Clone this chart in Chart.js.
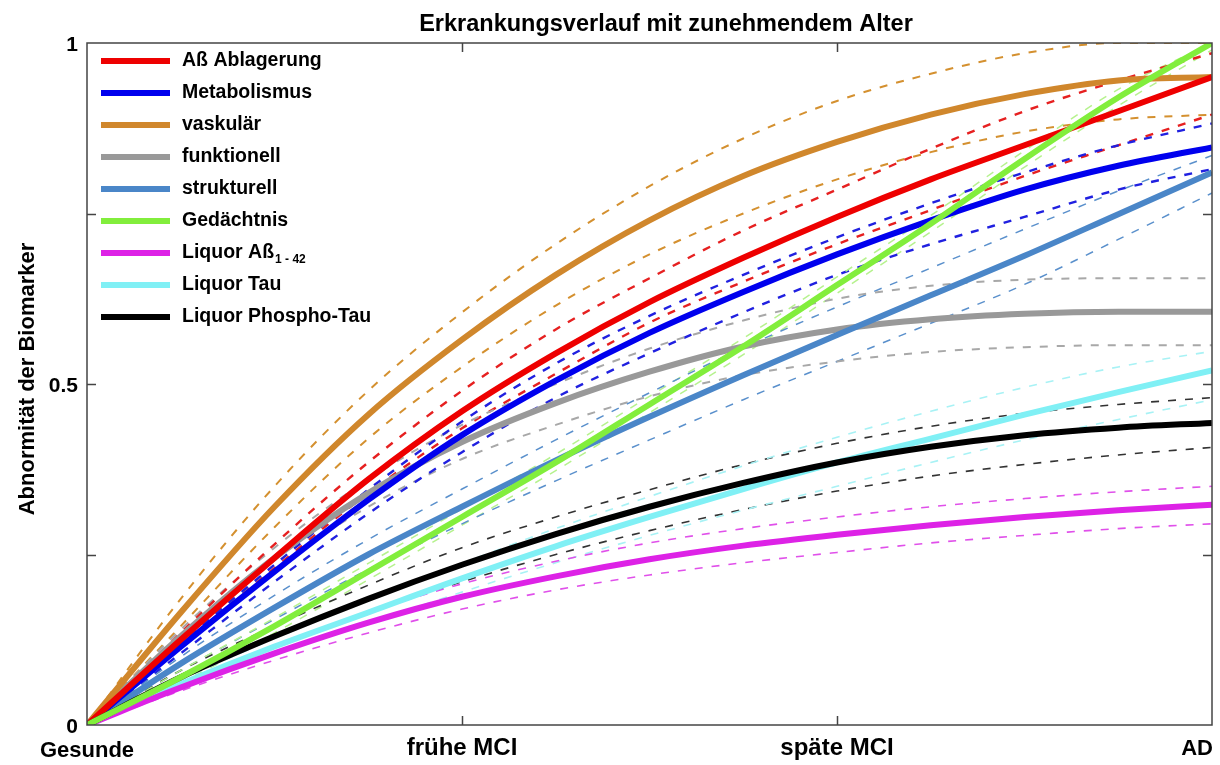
<!DOCTYPE html>
<html>
<head>
<meta charset="utf-8">
<script src="https://cdn.jsdelivr.net/npm/chart.js@4.4.1/dist/chart.umd.min.js"></script>
<style>
html,body{margin:0;padding:0;background:#fff;}
canvas{display:block;}
</style>
</head>
<body>
<canvas id="c" width="1220" height="765"></canvas>
<script>
// ---- data ----
const xs = [0, 0.25, 0.5, 0.75, 1, 1.25, 1.5, 1.75, 2, 2.25, 2.5, 2.75, 3];
const xTickValues = [0, 1, 2, 3];
const xTickLabels = ['Gesunde', 'frühe MCI', 'späte MCI', 'AD'];
const yTickValues = [0, 0.25, 0.5, 0.75, 1];
const yTickLabels = ['0', '', '0.5', '', '1'];
const titleText = 'Erkrankungsverlauf mit zunehmendem Alter';
const yTitleText = 'Abnormität der Biomarker';

const seriesNames = ['Aß Ablagerung', 'Metabolismus', 'vaskulär', 'funktionell', 'strukturell', 'Gedächtnis', 'Liquor Aß', 'Liquor Tau', 'Liquor Phospho-Tau'];
const seriesSubscripts = ['', '', '', '', '', '', '1 - 42', '', ''];

const abMean    = [0, 0.125, 0.245, 0.36, 0.46, 0.545, 0.62, 0.685, 0.745, 0.80, 0.85, 0.90, 0.95];
const abUpper   = [0, 0.135, 0.265, 0.385, 0.49, 0.58, 0.655, 0.725, 0.785, 0.845, 0.90, 0.945, 0.985];
const abLower   = [0, 0.115, 0.23, 0.34, 0.435, 0.515, 0.59, 0.65, 0.705, 0.755, 0.805, 0.85, 0.895];
const metaMean  = [0, 0.115, 0.225, 0.33, 0.425, 0.505, 0.575, 0.635, 0.69, 0.74, 0.785, 0.82, 0.847];
const metaUpper = [0, 0.12, 0.235, 0.345, 0.445, 0.53, 0.60, 0.66, 0.715, 0.765, 0.81, 0.85, 0.882];
const metaLower = [0, 0.105, 0.21, 0.31, 0.40, 0.48, 0.545, 0.605, 0.66, 0.705, 0.745, 0.785, 0.815];
const vaskMean  = [0, 0.165, 0.32, 0.455, 0.565, 0.66, 0.74, 0.805, 0.855, 0.895, 0.925, 0.945, 0.95];
const vaskUpper = [0, 0.185, 0.35, 0.49, 0.605, 0.705, 0.79, 0.86, 0.915, 0.955, 0.985, 1.0, 1.0];
const vaskLower = [0, 0.145, 0.29, 0.42, 0.525, 0.615, 0.69, 0.75, 0.80, 0.84, 0.87, 0.888, 0.895];
const funkMean  = [0, 0.13, 0.245, 0.34, 0.415, 0.472, 0.518, 0.555, 0.58, 0.595, 0.603, 0.606, 0.606];
const funkUpper = [0, 0.14, 0.26, 0.36, 0.44, 0.50, 0.552, 0.593, 0.625, 0.644, 0.653, 0.655, 0.655];
const funkLower = [0, 0.12, 0.23, 0.32, 0.39, 0.44, 0.482, 0.513, 0.533, 0.547, 0.554, 0.557, 0.557];
const strukMean = [0, 0.09, 0.172, 0.25, 0.32, 0.388, 0.452, 0.513, 0.572, 0.63, 0.688, 0.749, 0.81];
const strukUpper= [0, 0.10, 0.19, 0.272, 0.346, 0.418, 0.487, 0.553, 0.613, 0.67, 0.727, 0.783, 0.835];
const strukLower= [0, 0.08, 0.155, 0.228, 0.295, 0.358, 0.418, 0.477, 0.533, 0.589, 0.646, 0.712, 0.78];
const gedMean   = [0, 0.07, 0.145, 0.225, 0.305, 0.385, 0.47, 0.555, 0.645, 0.735, 0.83, 0.92, 1.0];
const gedUpper  = [0, 0.08, 0.157, 0.237, 0.317, 0.397, 0.482, 0.567, 0.657, 0.747, 0.842, 0.932, 1.0];
const gedLower  = [0, 0.062, 0.135, 0.213, 0.293, 0.373, 0.458, 0.543, 0.633, 0.723, 0.818, 0.908, 0.99];
const liqAbMean = [0, 0.055, 0.105, 0.15, 0.188, 0.218, 0.243, 0.263, 0.279, 0.293, 0.305, 0.315, 0.323];
const liqAbUpper= [0, 0.06, 0.115, 0.165, 0.207, 0.24, 0.267, 0.288, 0.305, 0.32, 0.332, 0.342, 0.35];
const liqAbLower= [0, 0.05, 0.095, 0.135, 0.17, 0.198, 0.22, 0.238, 0.253, 0.267, 0.278, 0.288, 0.295];
const tauMean   = [0, 0.06, 0.115, 0.165, 0.215, 0.262, 0.305, 0.346, 0.385, 0.42, 0.455, 0.488, 0.52];
const tauUpper  = [0, 0.066, 0.127, 0.183, 0.237, 0.288, 0.335, 0.38, 0.422, 0.46, 0.495, 0.525, 0.548];
const tauLower  = [0, 0.054, 0.104, 0.149, 0.195, 0.238, 0.278, 0.315, 0.35, 0.385, 0.418, 0.448, 0.477];
const ptauMean  = [0, 0.07, 0.13, 0.185, 0.235, 0.28, 0.32, 0.355, 0.385, 0.408, 0.425, 0.436, 0.443];
const ptauUpper = [0, 0.08, 0.145, 0.205, 0.26, 0.305, 0.345, 0.382, 0.413, 0.438, 0.457, 0.47, 0.48];
const ptauLower = [0, 0.06, 0.115, 0.165, 0.21, 0.25, 0.285, 0.316, 0.343, 0.365, 0.382, 0.396, 0.407];

// ---- styling ----
const colors = ['#ee0000', '#0000ee', '#d0872c', '#999999', '#4a86c8', '#82ee3c', '#dd22e6', '#80f0f5', '#000000'];
const dashColors = ['#e62020', '#2020e0', '#d4902f', '#a8a8a8', '#5a90cc', '#b6f28e', '#e050ea', '#a8f2f5', '#333333'];
const dashWidths = [2.4, 2.4, 2.0, 2.0, 1.5, 1.5, 1.6, 1.6, 1.6];
const means = [abMean, metaMean, vaskMean, funkMean, strukMean, gedMean, liqAbMean, tauMean, ptauMean];
const uppers = [abUpper, metaUpper, vaskUpper, funkUpper, strukUpper, gedUpper, liqAbUpper, tauUpper, ptauUpper];
const lowers = [abLower, metaLower, vaskLower, funkLower, strukLower, gedLower, liqAbLower, tauLower, ptauLower];
const solidOrder = [3, 4, 5, 6, 5, 0, 7, 8, 2];

const FONT = '"Liberation Sans", Arial, sans-serif';
const toPts = arr => arr.map((v, i) => ({x: xs[i], y: v}));

const datasets = [];
means.forEach((m, i) => {
  datasets.push({
    label: seriesNames[i], data: toPts(m), borderColor: colors[i], borderWidth: 6,
    pointRadius: 0, cubicInterpolationMode: 'monotone', fill: false, order: solidOrder[i]
  });
});
[uppers, lowers].forEach(group => group.forEach((arr, i) => {
  datasets.push({
    label: seriesNames[i] + ' (CI)', data: toPts(arr), borderColor: dashColors[i], borderWidth: dashWidths[i],
    borderDash: [8, 9], pointRadius: 0, cubicInterpolationMode: 'monotone', fill: false, order: 20
  });
}));

const decor = {
  id: 'decor',
  afterDatasetsDraw(chart) {
    const ctx = chart.ctx, a = chart.chartArea;
    const xS = chart.scales.x, yS = chart.scales.y;
    ctx.save();
    // box
    ctx.strokeStyle = '#444'; ctx.lineWidth = 1.5;
    ctx.strokeRect(a.left, a.top, a.right - a.left, a.bottom - a.top);
    // inward ticks
    ctx.beginPath();
    yTickValues.forEach(v => {
      if (v === 0 || v === 1) return;
      const py = Math.round(yS.getPixelForValue(v)) + 0.5;
      ctx.moveTo(a.left, py); ctx.lineTo(a.left + 9, py);
      ctx.moveTo(a.right, py); ctx.lineTo(a.right - 9, py);
    });
    xTickValues.forEach(v => {
      if (v === 0 || v === 3) return;
      const px = Math.round(xS.getPixelForValue(v)) + 0.5;
      ctx.moveTo(px, a.bottom); ctx.lineTo(px, a.bottom - 9);
      ctx.moveTo(px, a.top); ctx.lineTo(px, a.top + 9);
    });
    ctx.stroke();
    // y tick labels
    ctx.fillStyle = '#000';
    ctx.font = 'bold 21px ' + FONT;
    ctx.textAlign = 'right'; ctx.textBaseline = 'middle';
    yTickValues.forEach((v, i) => {
      if (!yTickLabels[i]) return;
      ctx.fillText(yTickLabels[i], a.left - 9, yS.getPixelForValue(v) + 2);
    });
    // x tick labels
    ctx.textBaseline = 'alphabetic';
    xTickValues.forEach((v, i) => {
      const px = xS.getPixelForValue(v);
      if (i === 0) { ctx.font = 'bold 22px ' + FONT; ctx.textAlign = 'center'; ctx.fillText(xTickLabels[i], px, 757); }
      else if (i === xTickValues.length - 1) { ctx.font = 'bold 22px ' + FONT; ctx.textAlign = 'right'; ctx.fillText(xTickLabels[i], px + 1, 755); }
      else { ctx.font = 'bold 24px ' + FONT; ctx.textAlign = 'center'; ctx.fillText(xTickLabels[i], px, 755); }
    });
    // title
    ctx.font = 'bold 23.5px ' + FONT; ctx.textAlign = 'center';
    ctx.fillText(titleText, 666, 31);
    // y title
    ctx.save();
    ctx.translate(34, 379); ctx.rotate(-Math.PI / 2);
    ctx.font = 'bold 22px ' + FONT; ctx.textAlign = 'center';
    ctx.fillText(yTitleText, 0, 0);
    ctx.restore();
    // legend
    const rowY0 = 61, rowStep = 32;
    seriesNames.forEach((name, i) => {
      const y = rowY0 + i * rowStep;
      ctx.strokeStyle = colors[i]; ctx.lineWidth = 6; ctx.lineCap = 'butt';
      ctx.beginPath(); ctx.moveTo(101, y); ctx.lineTo(170, y); ctx.stroke();
      ctx.fillStyle = '#000'; ctx.font = 'bold 19.5px ' + FONT;
      ctx.textAlign = 'left'; ctx.textBaseline = 'middle';
      ctx.fillText(name, 182, y);
      if (seriesSubscripts[i]) {
        const w = ctx.measureText(name).width;
        ctx.font = 'bold 12px ' + FONT;
        ctx.fillText(seriesSubscripts[i], 183 + w, y + 7);
      }
    });
    ctx.restore();
  }
};

new Chart(document.getElementById('c'), {
  type: 'line',
  data: { datasets },
  options: {
    responsive: false, animation: false, devicePixelRatio: 1,
    layout: { padding: { left: 0, top: 43, right: 8, bottom: 0 } },
    plugins: { legend: { display: false }, title: { display: false }, tooltip: { enabled: false } },
    scales: {
      x: {
        type: 'linear', min: 0, max: 3,
        ticks: { display: false, stepSize: 1 },
        grid: { display: false, drawTicks: false },
        border: { display: false },
        afterFit(s) { s.height = 40; s.paddingLeft = 0; s.paddingRight = 0; }
      },
      y: {
        min: 0, max: 1,
        ticks: { display: false, stepSize: 0.25 },
        grid: { display: false, drawTicks: false },
        border: { display: false },
        afterFit(s) { s.width = 87; s.paddingTop = 0; s.paddingBottom = 0; }
      }
    }
  },
  plugins: [decor]
});
</script>
</body>
</html>
